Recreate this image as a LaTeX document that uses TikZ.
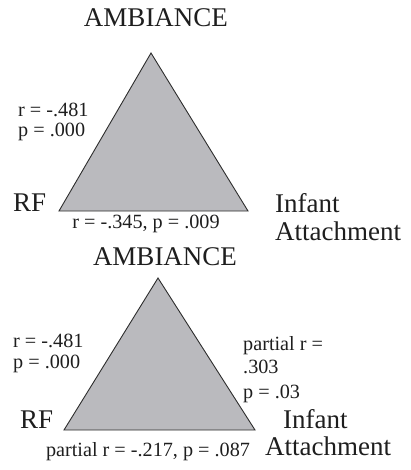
\documentclass[tikz,border=0pt]{standalone}
\usepackage{fontspec}
\setmainfont{Liberation Serif}

\definecolor{trigray}{RGB}{186,186,190}
\definecolor{edgegray}{RGB}{45,45,45}
\definecolor{inkgray}{RGB}{30,30,30}

\tikzset{
  bigtext/.style={font=\fontsize{27}{29}\selectfont, text=inkgray, inner sep=0pt, anchor=base west},
  smalltext/.style={font=\fontsize{20.2}{22}\selectfont, text=inkgray, inner sep=0pt, anchor=base west},
  tri/.style={fill=trigray, draw=edgegray, line width=0.9pt},
}

\begin{document}
\begin{tikzpicture}[x=1pt,y=-1pt]
  \useasboundingbox (0,0) rectangle (410,470);

  % upper triangle
  \coordinate (ambA) at (151,53);
  \coordinate (rfA) at (59,211);
  \coordinate (infA) at (248,211);
  \filldraw[tri] (ambA) -- (rfA) -- (infA) -- cycle;

  \node[bigtext, anchor=base] (ambTxtA) at (156,27) {AMBIANCE};
  \node[bigtext] (rfTxtA) at (13,211) {RF};
  \node[bigtext] (infTxtA) at (275,212) {Infant};
  \node[bigtext] (attTxtA) at (275,240) {Attachment};
  \node[smalltext] (rLeftA) at (18,117) {r = -.481};
  \node[smalltext] (pLeftA) at (18,137) {p = .000};
  \node[smalltext, anchor=base] (baseA) at (146,228) {r = -.345, p = .009};

  % lower triangle
  \coordinate (ambB) at (158,278);
  \coordinate (rfB) at (64,430);
  \coordinate (infB) at (255,430);
  \filldraw[tri] (ambB) -- (rfB) -- (infB) -- cycle;

  \node[bigtext, anchor=base] (ambTxtB) at (165,265) {AMBIANCE};
  \node[bigtext] (rfTxtB) at (20,428) {RF};
  \node[bigtext] (infTxtB) at (283,428) {Infant};
  \node[bigtext] (attTxtB) at (265,455) {Attachment};
  \node[smalltext] (rLeftB) at (13,347) {r = -.481};
  \node[smalltext] (pLeftB) at (13,368) {p = .000};
  \node[smalltext] (rRightB) at (243,350) {partial r =};
  \node[smalltext] (vRightB) at (243,373) {.303};
  \node[smalltext] (pRightB) at (243,398) {p = .03};
  \node[smalltext, anchor=base] (baseB) at (148,456) {partial r = -.217, p = .087};
\end{tikzpicture}
\end{document}
